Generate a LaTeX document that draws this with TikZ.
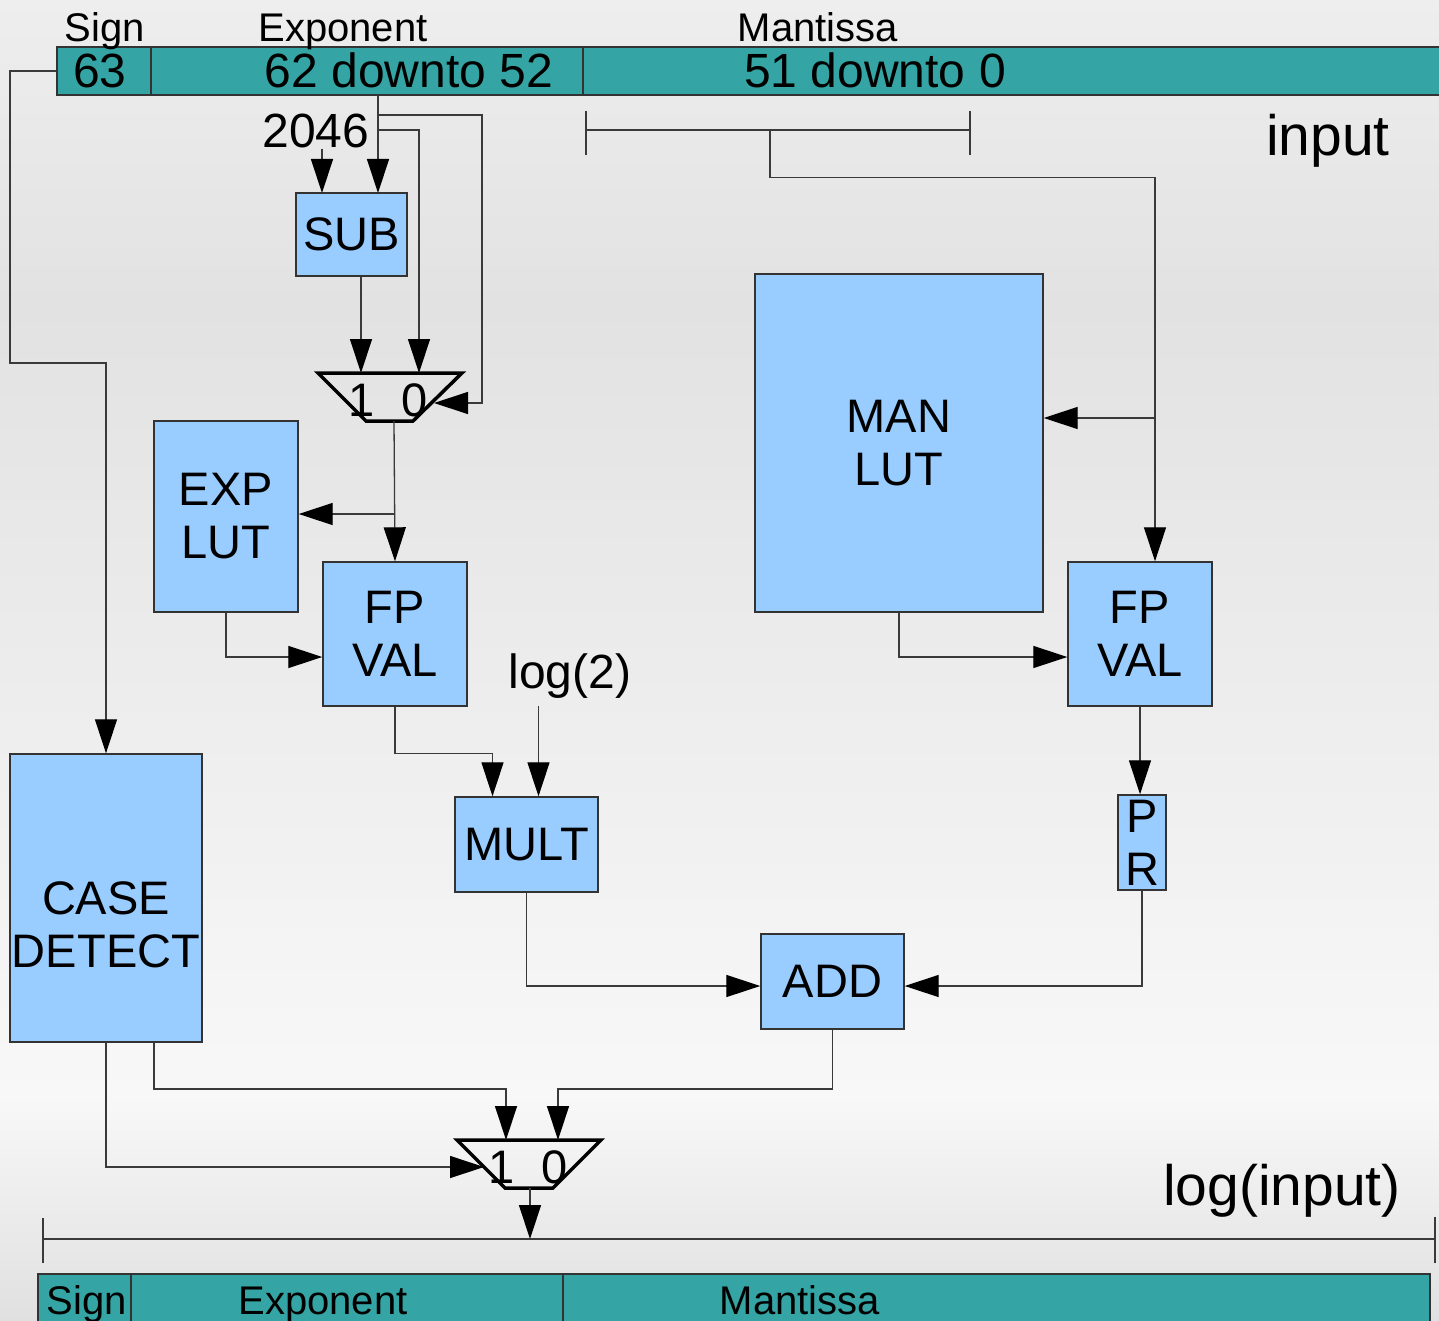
\documentclass[tikz,border=0pt]{standalone}
\usepackage{fontspec}
\setmainfont{Liberation Sans}
\usetikzlibrary{arrows.meta,calc}
\definecolor{cBar}{HTML}{34A4A4}
\definecolor{cBlk}{HTML}{99CCFF}
\definecolor{cEdge}{HTML}{333333}
\definecolor{cWire}{HTML}{3A3A3A}
\definecolor{bgTop}{HTML}{EEEEEE}
\definecolor{bgMid}{HTML}{E2E2E2}
\definecolor{bgLow}{HTML}{F8F8F8}
\definecolor{bgEnd}{HTML}{E0E0E0}
\pgfdeclareverticalshading{bgshade}{100bp}{color(0bp)=(bgEnd); color(25bp)=(bgEnd);
  color(33.5bp)=(bgLow); color(63.5bp)=(bgMid); color(75bp)=(bgTop); color(100bp)=(bgTop)}
\tikzset{
  wire/.style  = {draw=cWire, line width=1.3pt},
  flow/.style  = {wire, -{Triangle[length=34pt, width=22pt, color=black, fill=black]}},
  blk/.style   = {draw=cEdge, fill=cBlk, line width=1.4pt, inner sep=0pt,
                  align=center, font=\fontsize{47}{53}\selectfont},
  blktxt/.style = {inner sep=0pt, align=center, font=\fontsize{47}{53}\selectfont},
  cell/.style  = {draw=cEdge, fill=cBar, line width=1.4pt, inner sep=0pt,
                  minimum height=48pt},
  num/.style   = {font=\fontsize{48}{53}\selectfont, inner sep=0pt},
  head/.style  = {font=\fontsize{40}{44}\selectfont, inner sep=0pt},
  big/.style   = {font=\fontsize{57}{60}\selectfont, inner sep=0pt},
  mux/.style   = {draw=black, line width=3.5pt},
  muxno/.style = {font=\fontsize{47}{50}\selectfont, inner sep=0pt},
}

\begin{document}
\begin{tikzpicture}[x=1pt, y=-1pt]
  % page and background
  \clip (0,0) rectangle (1439,1321);
  \shade[shading=bgshade] (0,0) rectangle (1439,1321);

  % input word
  \node[cell, minimum width=94]  (sgnin) at (104,71)  {};
  \node[cell, minimum width=432] (expin) at (367,71)  {};
  \node[cell, minimum width=870] (manin) at (1018,71) {};
  \node[head, anchor=base] (hsgn) at (105,42) {Sign};
  \node[head, anchor=base] (hexp) at (343,42) {Exponent};
  \node[head, anchor=base] (hman) at (818,42) {Mantissa};
  \node[num, anchor=base] (b63)  at (100,88) {63};
  \node[num, anchor=base] (bexp) at (409,88) {62 downto 52};
  \node[num, anchor=base] (bman) at (875,88) {51 downto 0};
  \node[big, anchor=base] (tin)  at (1328,156) {input};

  % output word
  \node[cell, minimum width=93,  minimum height=52] (sgnout) at (84.5,1300)  {};
  \node[cell, minimum width=432, minimum height=52] (expout) at (347,1300)   {};
  \node[cell, minimum width=867, minimum height=52] (manout) at (996.5,1300) {};
  \node[head, anchor=base] (osgn) at (87,1314)  {Sign};
  \node[head, anchor=base] (oexp) at (323,1314) {Exponent};
  \node[head, anchor=base] (oman) at (800,1314) {Mantissa};
  \node[big, anchor=base] (tout) at (1282,1205) {log(input)};

  % blocks
  \node[blk, minimum width=111, minimum height=83]  (sub)    at (351.5,234.5) {SUB};
  \node[blk, minimum width=144, minimum height=191] (explut) at (226,516.5)   {EXP\\LUT};
  \node[blk, minimum width=144, minimum height=144] (fpl)    at (395,634)     {FP\\VAL};
  \node[blk, minimum width=288, minimum height=338] (manlut) at (899,443)     {MAN\\LUT};
  \node[blk, minimum width=144, minimum height=144] (fpr)    at (1140,634)    {FP\\VAL};
  \node[blk, minimum width=143, minimum height=95]  (mult)   at (526.5,844.5) {MULT};
  \node[blk, minimum width=48,  minimum height=95]  (pr)     at (1142,842.5)  {P\\R};
  \node[blk, minimum width=143, minimum height=95]  (add)    at (832.5,981.5) {ADD};
  \node[blk, minimum width=192, minimum height=288] (case)   at (106,898)     {};
  \node[blktxt] (casetxt) at (106,925) {CASE\\DETECT};
  \node[num, anchor=base] (k2046) at (316,148) {2046};
  \node[num, anchor=base] (log2)  at (570,688) {log(2)};

  % multiplexers
  \draw[mux] (318,373) -- (462,373) -- (413,421) -- (366,421) -- cycle;
  \node[muxno, anchor=base] (m1one)  at (362,416) {1};
  \node[muxno, anchor=base] (m1zero) at (415,416) {0};
  \coordinate (m1a) at (361,373);
  \coordinate (m1b) at (419,373);
  \coordinate (m1s) at (434,403);
  \coordinate (m1o) at (394,421);
  \draw[mux] (457,1140) -- (601,1140) -- (553,1188) -- (505,1188) -- cycle;
  \node[muxno, anchor=base] (m2one)  at (502,1183) {1};
  \node[muxno, anchor=base] (m2zero) at (555,1183) {0};
  \coordinate (m2a) at (506,1140);
  \coordinate (m2b) at (558,1140);
  \coordinate (m2s) at (484,1167);
  \coordinate (m2o) at (530,1188);

  % mantissa and result brackets
  \coordinate (mb1) at (586,130);
  \coordinate (mb2) at (970,130);
  \coordinate (mtap) at (770,130);
  \draw[wire] (586,111) -- (586,155) (970,111) -- (970,155) (mb1) -- (mb2);
  \coordinate (ob1) at (43,1239);
  \coordinate (ob2) at (1435,1239);
  \draw[wire] (43,1218) -- (43,1263) (1435,1217) -- (1435,1263) (ob1) -- (ob2);

  % ports
  \coordinate (etap) at (378,95);
  \coordinate (subA) at (322,193);
  \coordinate (subB) at (378,193);
  \coordinate (j1) at (394,514);
  \coordinate (mA) at ($(mult.north)+(-34,0)$);
  \coordinate (mB) at ($(mult.north)+(12,0)$);
  \coordinate (fB) at ($(fpr.north)+(15,0)$);
  \coordinate (jm) at (1155,418);

  % exponent path
  \draw[flow] (etap) -- (subB);
  \draw[flow] (k2046.south -| subA) -- (subA);
  \draw[flow] (378,115) -| (482,403) -- (m1s);
  \draw[flow] (378,130) -| (m1b);
  \draw[flow] (sub.south -| m1a) -- (m1a);
  \draw[flow] (m1o) -- (fpl.north);
  \draw[flow] (j1) -- (explut.east |- j1);
  \draw[flow] (explut.south) |- ($(fpl.west)+(0,23)$);
  \draw[flow] (fpl.south) |- ($(mA)+(0,-43)$) -- (mA);
  \draw[flow] ($(log2.south -| mB)+(0,8)$) -- (mB);
  \draw[flow] (mult.south) |- ($(add.west)+(0,4.5)$);

  % mantissa path
  \draw[flow] (mtap) |- ($(fB)+(0,-384)$) -- (fB);
  \draw[flow] (jm) -- (manlut.east |- jm);
  \draw[flow] (manlut.south) |- ($(fpr.west)+(0,23)$);
  \draw[flow] (fpr.south) -- (fpr.south |- pr.north);
  \draw[flow] (pr.south) |- ($(add.east)+(0,4.5)$);

  % sign and output select
  \draw[flow] (sgnin.west) -| (10,363) -| (case.north);
  \draw[flow] (add.south) |- ($(m2b)+(0,-51)$) -- (m2b);
  \draw[flow] ($(case.south)+(48,0)$) |- ($(m2a)+(0,-51)$) -- (m2a);
  \draw[flow] (case.south) |- (m2s);
  \draw[flow] (m2o) -- (m2o |- ob1);
\end{tikzpicture}
\end{document}
